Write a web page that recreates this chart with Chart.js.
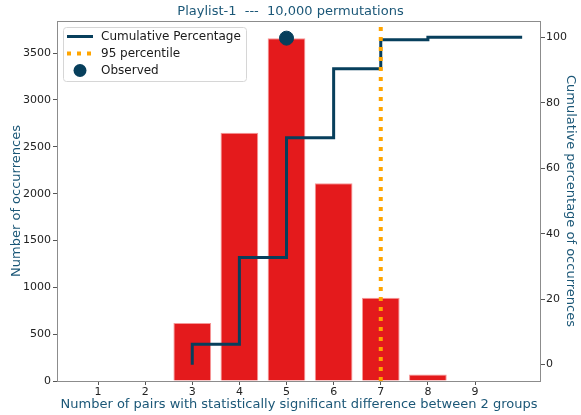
<!DOCTYPE html>
<html>
  <head>
    <title>Playlist-1</title>
    <meta charset="UTF-8" />
    <style>
      html, body { margin: 0; padding: 0; background: #ffffff; }
      #app { width: 581px; height: 415px; }
    </style>
  </head>
  <body>
    <div id="app"><canvas id="myChart"></canvas></div>
    <script src="https://cdn.jsdelivr.net/npm/chart.js@4"></script>
    <script>
    // data
    var pairs = [1, 2, 3, 4, 5, 6, 7, 8, 9];
    var counts = [0, 0, 620, 2650, 3660, 2110, 890, 70, 0];
    var cumX = [3, 4, 5, 6, 7, 8, 9, 10];
    var cumPct = [0, 6.2, 32.7, 69.3, 90.4, 99.3, 100, 100];
    var observedX = [5];
    var observedY = [3660];
    var percentileX = [7, 7];
    var percentileY = [-5, 105];
    var xTicks = [1, 2, 3, 4, 5, 6, 7, 8, 9];
    var leftTicks = [0, 500, 1000, 1500, 2000, 2500, 3000, 3500];
    var rightTicks = [0, 20, 40, 60, 80, 100];
    var legendLabels = ['Cumulative Percentage', '95 percentile', 'Observed'];

    var NAVY = '#073f5c';
    var RED = '#e41a1c';
    var ORANGE = '#ffa500';
    var TEAL = '#1b5777';
    var FONT = 'DejaVu Sans';

    var barData = pairs.map(function (p, i) { return {x: p, y: counts[i]}; });
    var cumData = cumX.map(function (p, i) { return {x: p, y: cumPct[i]}; });
    var obsData = observedX.map(function (p, i) { return {x: p, y: observedY[i]}; });
    var pctData = percentileX.map(function (p, i) { return {x: p, y: percentileY[i]}; });

    function plain(v) { return String(v); }

    // frame around the plot + legend box inside the top-left corner
    var framePlugin = {
      id: 'frame',
      afterDatasetsDraw: function (chart) {
        var ctx = chart.ctx, a = chart.chartArea;
        ctx.save();
        ctx.strokeStyle = '#8c8c8c';
        ctx.lineWidth = 1;
        ctx.strokeRect(a.left + 0.5, a.top + 0.5, a.right - a.left - 1, a.bottom - a.top);
        ctx.restore();
      },
      afterDraw: function (chart) {
        var ctx = chart.ctx, a = chart.chartArea;
        var bx = a.left + 6, by = a.top + 6, bw = 183, bh = 54;
        ctx.save();
        ctx.fillStyle = 'rgba(255,255,255,0.85)';
        ctx.strokeStyle = '#d6d6d6';
        ctx.lineWidth = 1;
        ctx.beginPath();
        ctx.roundRect(bx + 0.5, by + 0.5, bw, bh, 3);
        ctx.fill();
        ctx.stroke();

        var hx = bx + 4, hw = 26, tx = bx + 38;
        var rows = [by + 9.5, by + 26.5, by + 43.5];
        // line handle
        ctx.strokeStyle = NAVY;
        ctx.lineWidth = 3;
        ctx.beginPath();
        ctx.moveTo(hx, rows[0]);
        ctx.lineTo(hx + hw, rows[0]);
        ctx.stroke();
        // dotted handle
        ctx.strokeStyle = ORANGE;
        ctx.lineWidth = 4;
        ctx.setLineDash([4, 6]);
        ctx.beginPath();
        ctx.moveTo(hx, rows[1]);
        ctx.lineTo(hx + hw, rows[1]);
        ctx.stroke();
        ctx.setLineDash([]);
        // marker handle
        ctx.fillStyle = NAVY;
        ctx.beginPath();
        ctx.arc(hx + hw / 2, rows[2], 6.5, 0, Math.PI * 2);
        ctx.fill();

        ctx.fillStyle = '#1a1a1a';
        ctx.font = '12px "' + FONT + '"';
        ctx.textBaseline = 'middle';
        ctx.textAlign = 'left';
        legendLabels.forEach(function (t, i) { ctx.fillText(t, tx, rows[i]); });
        ctx.restore();
      }
    };

    var config = {
      data: {
        datasets: [{
          type: 'bar',
          label: 'count',
          data: barData,
          backgroundColor: RED,
          borderColor: 'rgba(245,140,140,0.9)',
          borderWidth: 1,
          barPercentage: 0.8,
          categoryPercentage: 1.0,
          xAxisID: 'x',
          yAxisID: 'y',
          order: 4
        }, {
          type: 'line',
          label: legendLabels[0],
          data: cumData,
          borderColor: NAVY,
          borderWidth: 3,
          stepped: 'after',
          pointRadius: 0,
          fill: false,
          xAxisID: 'x',
          yAxisID: 'y2',
          order: 3
        }, {
          type: 'scatter',
          label: legendLabels[2],
          data: obsData,
          backgroundColor: NAVY,
          borderColor: NAVY,
          pointRadius: 7,
          xAxisID: 'x',
          yAxisID: 'y',
          order: 2
        }, {
          type: 'line',
          label: legendLabels[1],
          data: pctData,
          borderColor: ORANGE,
          borderWidth: 4,
          borderDash: [4, 6],
          pointRadius: 0,
          fill: false,
          xAxisID: 'x',
          yAxisID: 'y2',
          order: 1
        }]
      },
      plugins: [framePlugin],
      options: {
        responsive: false,
        animation: false,
        layout: { padding: 0 },
        plugins: {
          legend: { display: false },
          tooltip: { enabled: false },
          title: {
            display: true,
            text: 'Playlist-1  ---  10,000 permutations',
            color: TEAL,
            font: { family: FONT, size: 13, weight: 'normal' },
            padding: { top: 4, bottom: 1.4 }
          }
        },
        scales: {
          x: {
            type: 'linear',
            position: 'bottom',
            offset: false,
            min: 0.13,
            max: 10.4,
            afterBuildTicks: function (s) { s.ticks = xTicks.map(function (v) { return {value: v}; }); },
            afterFit: function (s) { s.height = 34; },
            grid: { offset: false, drawOnChartArea: false, drawTicks: true, tickLength: 4, tickColor: '#555' },
            border: { display: false },
            ticks: { color: '#222', font: { family: FONT, size: 11 }, padding: 1, maxRotation: 0, autoSkip: false, callback: plain },
            title: {
              display: true,
              text: 'Number of pairs with statistically significant difference between 2 groups',
              color: TEAL,
              font: { family: FONT, size: 13 },
              padding: { top: 0, bottom: 3 }
            }
          },
          y: {
            type: 'linear',
            position: 'left',
            min: 0,
            max: 3843,
            afterBuildTicks: function (s) { s.ticks = leftTicks.map(function (v) { return {value: v}; }); },
            afterFit: function (s) { s.width = 57; },
            grid: { drawOnChartArea: false, drawTicks: true, tickLength: 4, tickColor: '#555' },
            border: { display: false },
            ticks: { color: '#222', font: { family: FONT, size: 11 }, padding: 2, callback: plain },
            title: {
              display: true,
              text: 'Number of occurrences',
              color: TEAL,
              font: { family: FONT, size: 13 },
              padding: { top: 9, bottom: 0 }
            }
          },
          y2: {
            type: 'linear',
            position: 'right',
            min: -5,
            max: 105,
            afterBuildTicks: function (s) { s.ticks = rightTicks.map(function (v) { return {value: v}; }); },
            afterFit: function (s) { s.width = 40; },
            grid: { drawOnChartArea: false, drawTicks: true, tickLength: 4, tickColor: '#555' },
            border: { display: false },
            ticks: { color: '#222', font: { family: FONT, size: 11 }, padding: 1, callback: plain },
            title: {
              display: true,
              text: 'Cumulative percentage of occurrences',
              color: TEAL,
              font: { family: FONT, size: 13 },
              padding: { top: 3, bottom: 0 }
            }
          }
        }
      }
    };

    var canvas = document.getElementById('myChart');
    canvas.width = 581;
    canvas.height = 415;
    var myChart = new Chart(canvas, config);
    </script>
  </body>
</html>
